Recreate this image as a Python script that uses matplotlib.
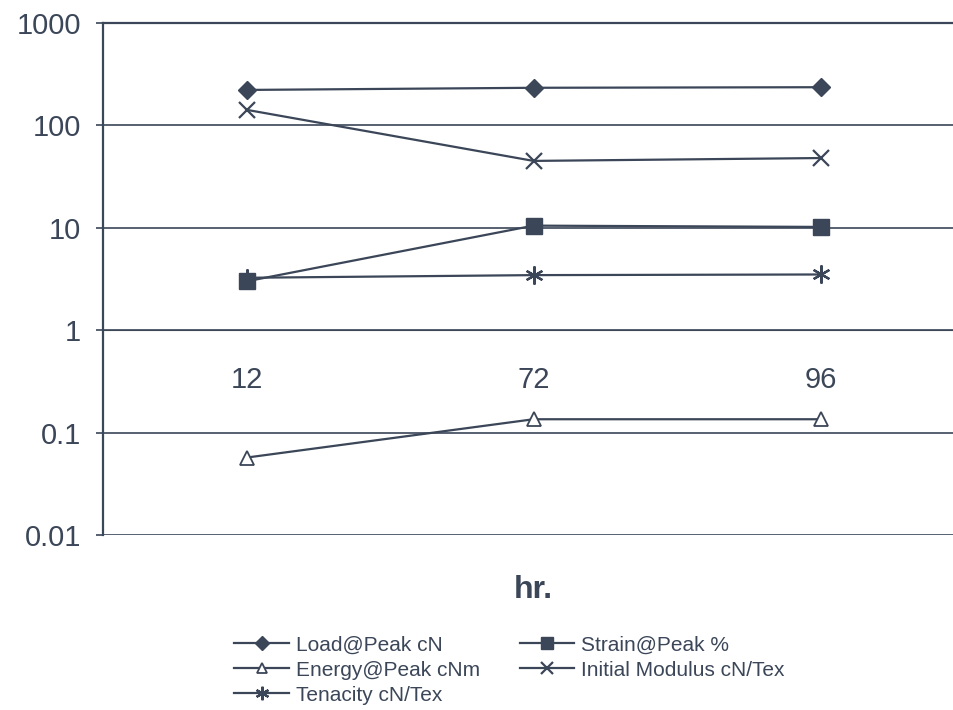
import matplotlib.pyplot as plt
import numpy as np

plt.rcParams['font.family'] = ['Liberation Sans', 'DejaVu Sans']

hours = ["12", "72", "96"]
load_peak = [222, 233, 236]
strain_peak = [3.0, 10.5, 10.2]
energy_peak = [0.057, 0.135, 0.135]
init_modulus = [142, 45, 48]
tenacity = [3.25, 3.45, 3.5]

ink = '#3b4658'

fig = plt.figure(figsize=(9.54, 7.10), dpi=100)
ax = fig.add_axes([0.108, 0.2465, 0.9025, 0.7211])
x = np.arange(len(hours))

l1, = ax.plot(x, load_peak, color=ink, lw=1.6, marker='D', ms=9, mfc=ink, mec=ink, label='Load@Peak cN')
l2, = ax.plot(x, strain_peak, color=ink, lw=1.6, marker='s', ms=11, mfc=ink, mec=ink, label='Strain@Peak %')
l3, = ax.plot(x, energy_peak, color=ink, lw=1.6, marker='^', ms=10, mfc='white', mec=ink, mew=1.3, label='Energy@Peak cNm')
l4, = ax.plot(x, init_modulus, color=ink, lw=1.6, marker='x', ms=12, mec=ink, mew=1.6, label='Initial Modulus cN/Tex')
l5, = ax.plot(x, tenacity, color=ink, lw=1.6, marker=(6, 2, 0), ms=13, mec=ink, mew=1.6, label='Tenacity cN/Tex')

ax.set_yscale('log')
ax.set_ylim(0.01, 1000)
ax.set_xlim(-0.5, 2.5)
ax.set_yticks([0.01, 0.1, 1, 10, 100, 1000])
ax.set_yticklabels(['0.01', '0.1', '1', '10', '100', '1000'])
ax.yaxis.set_minor_locator(plt.NullLocator())
ax.set_xticks(x)
ax.set_xticklabels(hours)
ax.grid(axis='y', color=ink, lw=1.2)
ax.set_axisbelow(True)

# category axis crosses at 1, like the original spreadsheet chart
ax.spines['bottom'].set_position(('data', 1))
for s in ['bottom', 'left', 'top']:
    ax.spines[s].set_color(ink)
ax.spines['left'].set_linewidth(1.6)
ax.spines['top'].set_linewidth(1.6)
ax.spines['right'].set_visible(False)

ax.tick_params(axis='y', labelsize=21, colors=ink, length=5, width=1.2, pad=11)
ax.tick_params(axis='x', labelsize=21, colors=ink, length=0, pad=26)

ax.set_xlabel('hr.', fontsize=23, fontweight='bold', color=ink, va='center')
ax.xaxis.set_label_coords(0.5, -0.107)

fig.legend(handles=[l1, l3, l5, l2, l4], loc='upper left', bbox_to_anchor=(0.237, 0.117),
           bbox_transform=fig.transFigure, ncol=2, frameon=False, fontsize=15,
           labelcolor=ink, handlelength=2.6, handletextpad=0.35, columnspacing=1.9,
           labelspacing=0.3, borderaxespad=0, markerscale=0.75)

fig.savefig('out.png', dpi=100)
